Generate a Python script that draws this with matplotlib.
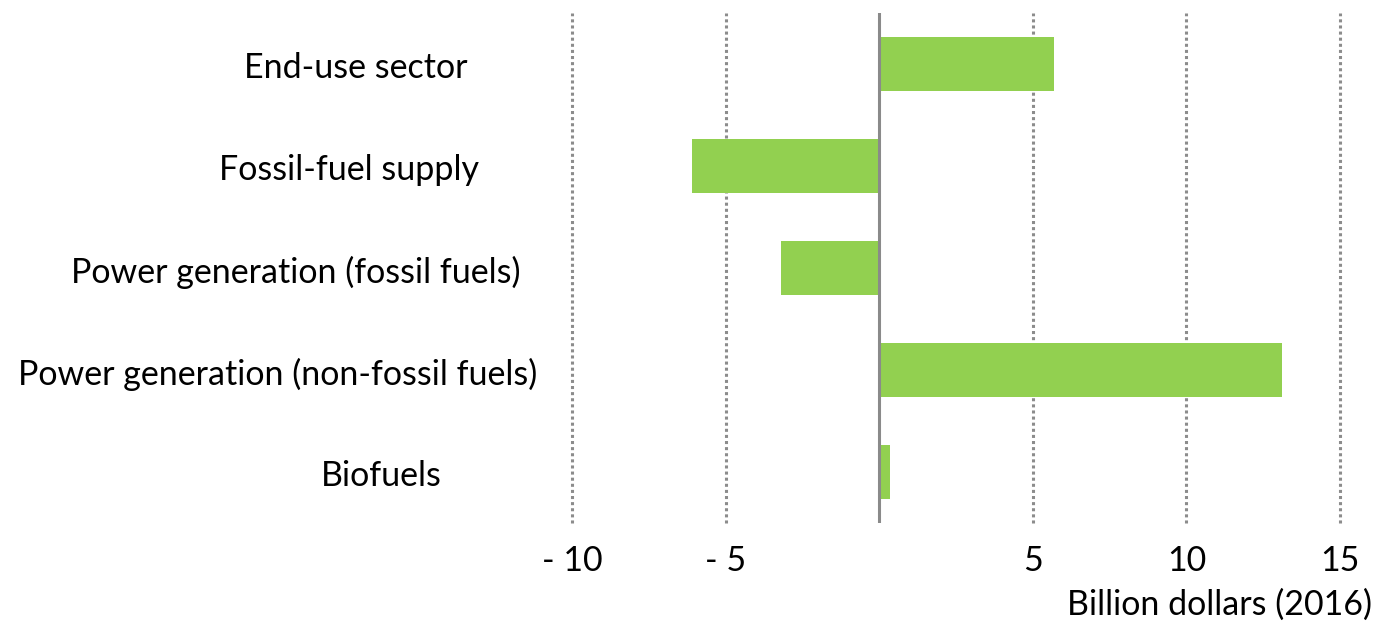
import matplotlib
matplotlib.use("Agg")
import matplotlib.pyplot as plt
from matplotlib.transforms import blended_transform_factory

categories = ["End-use sector", "Fossil-fuel supply", "Power generation (fossil fuels)",
              "Power generation (non-fossil fuels)", "Biofuels"]
values = [5.7, -6.1, -3.2, 13.1, 0.35]
tick_values = [-10, -5, 5, 10, 15]
tick_labels = ["- 10", "- 5", "5", "10", "15"]
xlabel = "Billion dollars (2016)"

# label centre positions (figure pixel x) - layout only
label_centers = [356, 349, 296, 278, 381]

plt.rcParams['font.family'] = ['Lato', 'DejaVu Sans']
W, H = 1378, 623
FS = 24.5
fig = plt.figure(figsize=(W / 100, H / 100), dpi=100)
ax = fig.add_axes([572 / W, 1 - 523 / H, (1340 - 572) / W, (523 - 13) / H])

ypos = list(range(len(categories)))
ax.barh(ypos, values, height=0.53, color="#92D050", zorder=3)
ax.set_ylim(len(categories) - 0.5, -0.5)
ax.set_xlim(-10, 15)

for t in tick_values:
    ax.axvline(t, color="#8c8c8c", linestyle=(0, (1, 1)), linewidth=2.2, zorder=1, clip_on=False)
ax.axvline(0, color="#8a8a8a", linewidth=2.2, zorder=4)

for s in ax.spines.values():
    s.set_visible(False)
ax.set_yticks([])
ax.set_xticks(tick_values)
ax.set_xticklabels(tick_labels, fontsize=FS)
ax.tick_params(axis='x', length=0, pad=16, colors="black")

tr = blended_transform_factory(fig.transFigure, ax.transData)
for cat, y, cx in zip(categories, ypos, label_centers):
    ax.text(cx / W, y + 0.04, cat, transform=tr, ha='center', va='center', fontsize=FS)

fig.text(1372 / W, 1 - 605 / H, xlabel, ha='right', va='center', fontsize=FS)

fig.savefig("out.png", dpi=100)
